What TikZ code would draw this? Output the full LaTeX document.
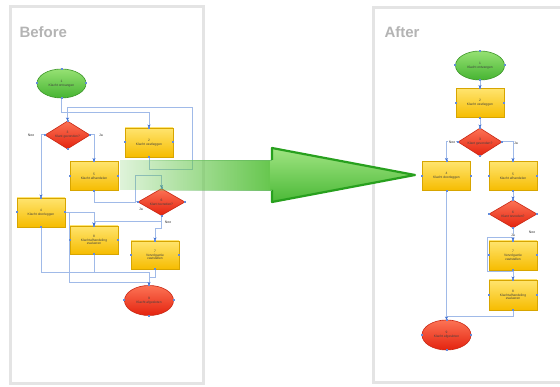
\documentclass[tikz,border=0pt]{standalone}
\usepackage{fontspec}
\setmainfont{Liberation Sans}
\usetikzlibrary{shapes.geometric,fadings,arrows.meta}
\tikzfading[name=arrowfade, left color=transparent!80, right color=transparent!0]
\definecolor{linec}{RGB}{160,186,232}
\definecolor{dotc}{RGB}{60,110,210}
\definecolor{boxtop}{RGB}{255,228,110}
\definecolor{boxbot}{RGB}{246,188,0}
\definecolor{boxline}{RGB}{215,165,0}
\definecolor{redtop}{RGB}{252,115,85}
\definecolor{redbot}{RGB}{228,35,15}
\definecolor{redline}{RGB}{200,40,20}
\definecolor{gtop}{RGB}{150,225,115}
\definecolor{gbot}{RGB}{70,180,50}
\definecolor{gline}{RGB}{60,150,40}
\definecolor{agreen}{RGB}{100,198,75}
\definecolor{adark}{RGB}{40,160,30}
\definecolor{headtop}{RGB}{160,228,130}
\definecolor{headbot}{RGB}{75,185,55}
\definecolor{panelc}{RGB}{228,228,228}
\definecolor{titlec}{RGB}{180,180,180}
\begin{document}
\begin{tikzpicture}[x=1pt,y=-1pt,
  ntext/.style={align=center, text=black!75, font=\fontsize{3.3}{3.8}\selectfont},
  ybox/.style={ntext, rectangle, minimum width=48pt, minimum height=29pt, inner sep=0pt,
    top color=boxtop, bottom color=boxbot, draw=boxline, line width=0.6pt},
  rdia/.style={ntext, diamond, aspect=1.6, minimum width=45pt, minimum height=28pt, inner sep=0pt,
    top color=redtop, bottom color=redbot, draw=redline, line width=0.6pt},
  gell/.style={ntext, ellipse, minimum width=49pt, minimum height=29pt, inner sep=0pt,
    top color=gtop, bottom color=gbot, draw=gline, line width=0.6pt},
  rell/.style={ntext, ellipse, minimum width=49pt, minimum height=30pt, inner sep=0pt,
    top color=redtop, bottom color=redbot, draw=redline, line width=0.6pt},
  cline/.style={draw=linec, line width=1pt},
  carrow/.style={cline, -{Stealth[length=3.2pt,width=3.2pt,color=dotc]}},
  clab/.style={fill=white, inner sep=0.4pt, text=black!80, font=\fontsize{3.5}{4}\selectfont},
  title/.style={anchor=west, text=titlec, font=\fontsize{15}{18}\selectfont\bfseries}
]
\useasboundingbox (0,0) rectangle (560,387);
\clip (0,0) rectangle (560,387);
\fill[white] (0,0) rectangle (560,387);
% panels
\draw[panelc, line width=3pt] (10,7) rectangle (203,384);
\draw[panelc, line width=3pt] (373,8) rectangle (566,383);
\node[title] (tb) at (16,32) {Before};
\node[title] (ta) at (381,32) {After};

% ---------- Before ----------
\node[gell] (ls) at (61.5,83.5) {1\\Klacht ontvangen};
\node[rdia] (ld1) at (67.5,135) {3\\Klant gevonden?};
\node[ybox] (lb2) at (149,142.5) {2\\Klacht vastleggen};
\node[ybox] (lb3) at (94,176) {5\\Klacht afhandelen};
\node[ybox] (lb4) at (41,212.5) {4\\Klacht doorleggen};
\node[rdia, minimum width=47pt, minimum height=27pt] (ld2) at (161.5,202) {6\\Klant tevreden?};
\node[ybox, minimum height=28pt] (lb5) at (94,240) {8\\Klachtafhandeling\\evalueren};
\node[ybox, minimum height=28pt] (lb6) at (155,255) {7\\Vervolgactie\\vaststellen};
\node[rell] (le) at (149,300.5) {9\\Klacht afgesloten};

\draw[carrow] (ls.south) -- ++(0,14) -| (lb2.north);
\draw[carrow] (lb2.south) -- (149,170) -- (192,170) -- (192,108) -- (67.5,108) -- (ld1.north);
\draw[carrow] (ld1.west) -| (lb4.north);
\node[clab] (ln1) at (31,135) {Nee};
\draw[carrow] (ld1.east) -| (lb3.north);
\node[clab] (lj1) at (101,135) {Ja};
\draw[carrow] (lb3.south) |- (135,203) -- (135,176) -| (ld2.north);
\draw[cline] (ld2.west) -- (135,202);
\node[clab] (lj2) at (141,209) {Ja};
\draw[carrow] (ld2.south) -- (161.5,222) -| (lb5.north);
\node[clab] (ln2) at (168,222) {Nee};
\draw[carrow] (161.5,222) -- (161.5,229) -| (lb6.north);
\draw[carrow] (lb4.east) -| (lb5.north);
\draw[cline] (69,212.5) -- (69,283) -- (149,283);
\draw[carrow] (lb4.south) |- (149,273) -- (le.north);
\draw[cline] (lb5.south) -- (94,273);
\draw[cline] (lb6.south) |- (150,278);

% ---------- After ----------
\node[gell] (rs) at (480,65.5) {1\\Klacht ontvangen};
\node[ybox] (rb2) at (480,103) {2\\Klacht vastleggen};
\node[rdia, minimum width=44pt] (rd1) at (480,142) {3\\Klant gevonden?};
\node[ybox] (rb4) at (446.5,176) {4\\Klacht doorleggen};
\node[ybox] (rb3) at (513,176) {5\\Klacht afhandelen};
\node[rdia, minimum width=48pt] (rd2) at (513,214) {6\\Klant tevreden?};
\node[ybox] (rb6) at (513,255.5) {7\\Vervolgactie\\vaststellen};
\node[ybox, minimum height=30pt] (rb7) at (513,295) {8\\Klachtafhandeling\\evalueren};
\node[rell] (re) at (446.5,335) {9\\Klacht afgesloten};

\draw[carrow] (rs.south) -- (rb2.north);
\draw[carrow] (rb2.south) -- (rd1.north);
\draw[carrow] (rd1.west) -| (rb4.north);
\node[clab] (rn1) at (452,142.5) {Nee};
\draw[carrow] (rd1.east) -| (rb3.north);
\node[clab] (rj1) at (516,143) {Ja};
\draw[carrow] (rb3.south) -- (rd2.north);
\draw[cline] (513,238) -- (487,238) -- (487,272) -- (513,272);
\draw[carrow] (rd2.south) -- (rb6.north);
\node[clab] (rj2) at (513,235.5) {Ja};
\node[clab] (rn2) at (532,232) {Nee};
\draw[carrow] (rb6.south) -- (rb7.north);
\draw[cline] (rb7.south) |- (446.5,317);
\draw[carrow] (rb4.south) -- (re.north);

% connection points
\foreach \n in {ls,ld1,lb2,lb3,lb4,ld2,lb5,lb6,le,rs,rb2,rd1,rb4,rb3,rd2,rb6,rb7,re}
  \foreach \a in {north,south,east,west}
    \fill[dotc!80] (\n.\a) ++(-1,-1) rectangle ++(2,2);

% ---------- big arrow ----------
\fill[agreen, path fading=arrowfade] (120,160) rectangle (274,190);
\shade[top color=headtop, bottom color=headbot] (270,160) -- (272,160) -- (272,148) -- (415,175) -- (272,202) -- (272,190) -- (270,190) -- cycle;
\draw[adark, line width=2.2pt, line join=round] (272,160) -- (272,148) -- (415,175) -- (272,202) -- (272,190);
\draw[adark!70, line width=0.8pt, path fading=arrowfade] (150,160) -- (272,160);
\draw[adark!70, line width=0.8pt, path fading=arrowfade] (150,190) -- (272,190);
\end{tikzpicture}
\end{document}
